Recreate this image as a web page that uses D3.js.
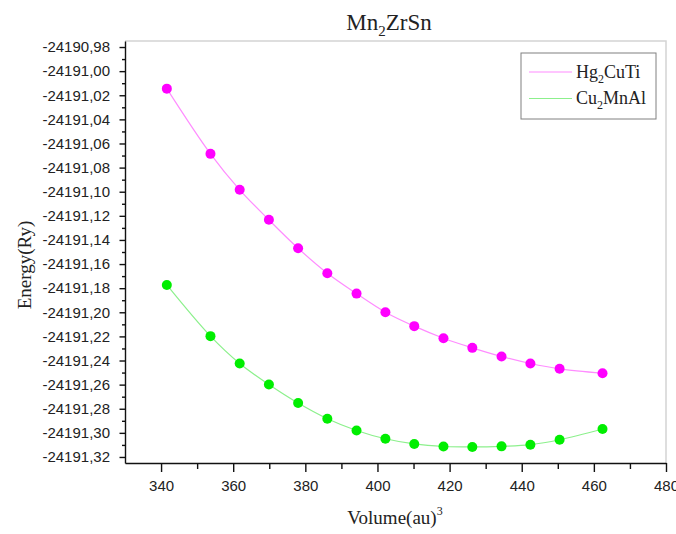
<!DOCTYPE html>
<html>
<head>
<meta charset="utf-8">
<script src="https://cdn.jsdelivr.net/npm/d3@7"></script>
<style>
    body { margin: 0; background: #fff; }
    svg { display: block; }
</style>
</head>
<body>
<div id="chart"></div>
<script>
// volumes in au^3 and energies in Ry
var volumes = [341.6, 353.7, 361.8, 369.9, 378.0, 386.1, 394.2, 402.2,
    410.2, 418.3, 426.3, 434.4, 442.4, 450.5, 462.4];
var hgCuTi = [-24191.0145, -24191.0686, -24191.0984, -24191.1233, -24191.1469,
    -24191.1676, -24191.1845, -24191.1999, -24191.2115, -24191.2215,
    -24191.2295, -24191.2367, -24191.2425, -24191.2469, -24191.2505];
var cuMnAl = [-24191.1773, -24191.2198, -24191.2425, -24191.2599, -24191.2753,
    -24191.2883, -24191.2980, -24191.3049, -24191.3092, -24191.3113,
    -24191.3117, -24191.3112, -24191.3098, -24191.3057, -24191.2968];
var xTicks = [340, 360, 380, 400, 420, 440, 460, 480];
var xMinorTicks = [350, 370, 390, 410, 430, 450, 470];
var yTicks = [-24190.98, -24191.00, -24191.02, -24191.04, -24191.06, -24191.08,
    -24191.10, -24191.12, -24191.14, -24191.16, -24191.18, -24191.20,
    -24191.22, -24191.24, -24191.26, -24191.28, -24191.30, -24191.32];
var yMinorTicks = [-24190.99, -24191.01, -24191.03, -24191.05, -24191.07,
    -24191.09, -24191.11, -24191.13, -24191.15, -24191.17, -24191.19,
    -24191.21, -24191.23, -24191.25, -24191.27, -24191.29, -24191.31];

var width = 676;
var height = 534;
var margin = {
    top: 41,
    right: 10,
    bottom: 71,
    left: 125
};
var serif = '"Liberation Serif", "Times New Roman", serif';
var sans = '"Liberation Sans", Arial, sans-serif';

var x = d3.scaleLinear()
    .domain([330, 480])
    .range([margin.left, width - margin.right]);

var y = d3.scaleLinear()
    .domain([-24191.325, -24190.975])
    .range([height - margin.bottom, margin.top]);

var fmt = d => d.toFixed(2).replace('.', ',');

var svg = d3.select('#chart')
    .append('svg')
    .attr('width', width)
    .attr('height', height)
    .attr('viewBox', [0, 0, width, height]);

svg.append('rect')
    .attr('width', width)
    .attr('height', height)
    .attr('fill', '#fff');

// light frame on top and right
svg.append('path')
    .attr('d', `M${x(330)},${y.range()[1]}H${x(480)}V${y.range()[0]}`)
    .attr('fill', 'none')
    .attr('stroke', '#d4d4d4')
    .attr('stroke-width', 1.5);

var xAxis = g => g
    .attr('transform', `translate(0,${height - margin.bottom})`)
    .call(d3.axisBottom(x).tickValues(xTicks).tickSize(9).tickPadding(8.5)
        .tickSizeOuter(0))
    .call(g => g.selectAll('text')
        .attr('font-family', sans)
        .attr('font-size', 15)
        .attr('fill', '#222'));

var xMinor = g => g
    .attr('transform', `translate(0,${height - margin.bottom})`)
    .call(d3.axisBottom(x).tickValues(xMinorTicks).tickSize(6).tickFormat('')
        .tickSizeOuter(0))
    .call(g => g.select('.domain').remove());

var yAxis = g => g
    .attr('transform', `translate(${margin.left},0)`)
    .call(d3.axisLeft(y).tickValues(yTicks).tickSize(5.5).tickPadding(9.5)
        .tickFormat(fmt).tickSizeOuter(0))
    .call(g => g.selectAll('text')
        .attr('font-family', sans)
        .attr('font-size', 15)
        .attr('fill', '#222'));

var yMinor = g => g
    .attr('transform', `translate(${margin.left},0)`)
    .call(d3.axisLeft(y).tickValues(yMinorTicks).tickSize(3).tickFormat('')
        .tickSizeOuter(0))
    .call(g => g.select('.domain').remove());

svg.append('g').call(xMinor);
svg.append('g').call(yMinor);
svg.append('g').call(xAxis);
svg.append('g').call(yAxis);

svg.selectAll('.domain, .tick line')
    .attr('stroke', '#111')
    .attr('stroke-width', 1.4);

var series = [
    { name: 'Hg', sub: '2', rest: 'CuTi', values: hgCuTi, line: '#ff8cff', dot: '#ff00ff' },
    { name: 'Cu', sub: '2', rest: 'MnAl', values: cuMnAl, line: '#8cf08c', dot: '#00ee00' }
];

var line = d3.line()
    .curve(d3.curveCatmullRom.alpha(0.5))
    .x((d, i) => x(volumes[i]))
    .y(d => y(d));

series.forEach(s => {
    var g = svg.append('g');
    g.append('path')
        .datum(s.values)
        .attr('fill', 'none')
        .attr('stroke', s.line)
        .attr('stroke-width', 1.2)
        .attr('d', line);
    g.selectAll('circle')
        .data(s.values)
        .join('circle')
        .attr('cx', (d, i) => x(volumes[i]))
        .attr('cy', d => y(d))
        .attr('r', 5)
        .attr('fill', s.dot);
});

// legend
var legend = svg.append('g');
legend.append('rect')
    .attr('x', 521)
    .attr('y', 53)
    .attr('width', 135)
    .attr('height', 66)
    .attr('fill', '#fff')
    .attr('stroke', '#808080')
    .attr('stroke-width', 1);

series.forEach((s, i) => {
    var ly = 72 + i * 26.5;
    legend.append('line')
        .attr('x1', 529)
        .attr('x2', 572)
        .attr('y1', ly)
        .attr('y2', ly)
        .attr('stroke', s.line)
        .attr('stroke-width', 1.2);
    var t = legend.append('text')
        .attr('x', 576)
        .attr('y', ly + 5.5)
        .attr('font-family', serif)
        .attr('font-size', 18)
        .attr('fill', '#222');
    t.append('tspan').text(s.name);
    t.append('tspan').attr('font-size', 12).attr('dy', 5).text(s.sub);
    t.append('tspan').attr('dy', -5).text(s.rest);
});

// title
var title = svg.append('text')
    .attr('x', 389)
    .attr('y', 30)
    .attr('text-anchor', 'middle')
    .attr('font-family', serif)
    .attr('font-size', 23)
    .attr('fill', '#222');
title.append('tspan').text('Mn');
title.append('tspan').attr('font-size', 15).attr('dy', 6).text('2');
title.append('tspan').attr('dy', -6).text('ZrSn');

// axis titles
var xLabel = svg.append('text')
    .attr('x', 395)
    .attr('y', 524)
    .attr('text-anchor', 'middle')
    .attr('font-family', serif)
    .attr('font-size', 19)
    .attr('fill', '#222');
xLabel.append('tspan').text('Volume(au)');
xLabel.append('tspan').attr('font-size', 12).attr('dy', -9).text('3');

svg.append('text')
    .attr('transform', 'translate(31,265) rotate(-90)')
    .attr('text-anchor', 'middle')
    .attr('font-family', serif)
    .attr('font-size', 19)
    .attr('fill', '#222')
    .text('Energy(Ry)');
</script>
</body>
</html>
